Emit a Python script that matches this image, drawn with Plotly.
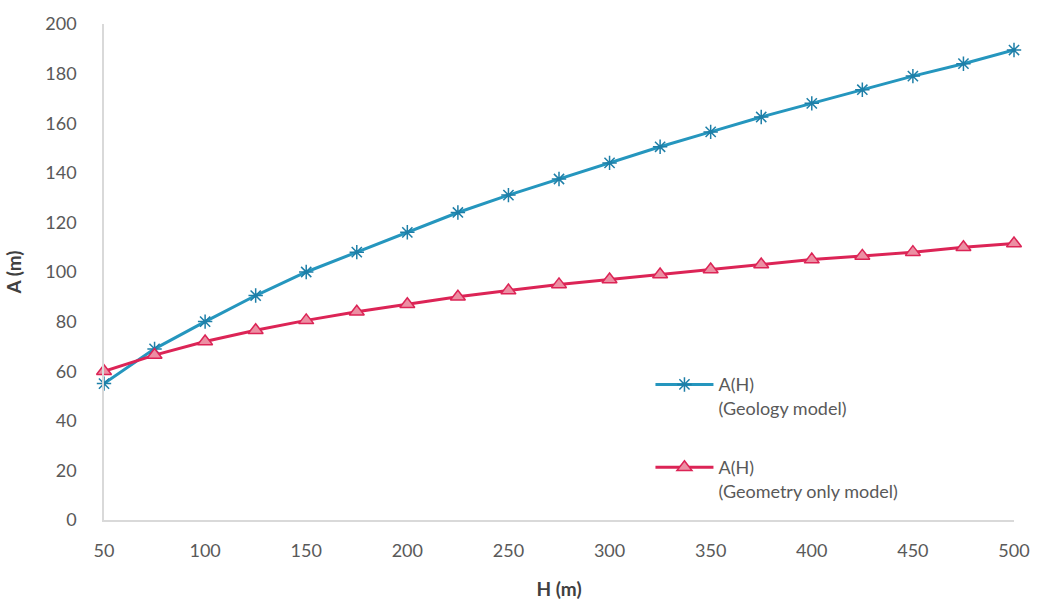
import plotly.graph_objects as go

H = [50, 75, 100, 125, 150, 175, 200, 225, 250, 275, 300, 325, 350, 375, 400, 425, 450, 475, 500]
geology = [55, 69, 80, 90.5, 100, 108, 116, 124, 131, 137.5, 144, 150.5, 156.5, 162.5, 168, 173.5, 179, 184, 189.5]
geometry = [60, 66.5, 72, 76.5, 80.5, 84, 87, 90, 92.5, 95, 97, 99, 101, 103, 105, 106.5, 108, 110, 111.5]

x_ticks = [50, 100, 150, 200, 250, 300, 350, 400, 450, 500]
y_ticks = [0, 20, 40, 60, 80, 100, 120, 140, 160, 180, 200]

blue = "#2596BE"
red = "#DC2456"

fig = go.Figure()
fig.add_trace(go.Scatter(
    x=H, y=geology, mode="lines+markers",
    name="A(H)<br>(Geology model)",
    legendgroup="g1", cliponaxis=False,
    line=dict(color=blue, width=3),
    marker=dict(symbol="asterisk-open", size=12, color="#1E7FA8", line=dict(color="#1E7FA8", width=1.5)),
))
fig.add_trace(go.Scatter(
    x=H, y=geometry, mode="lines+markers",
    name="A(H)<br>(Geometry only model)",
    legendgroup="g2", cliponaxis=False,
    line=dict(color=red, width=3),
    marker=dict(symbol="triangle-up", size=13, color="#EC8FA3", line=dict(color=red, width=1.5)),
))

font = "Lato, 'Open Sans', sans-serif"
fig.update_layout(
    width=1042, height=609,
    margin=dict(l=104, r=27, t=22, b=89),
    paper_bgcolor="white", plot_bgcolor="white",
    font=dict(family=font, size=18, color="#595959"),
    showlegend=True,
    legend=dict(x=0.6005, y=0.31, xanchor="left", yanchor="top", valign="top",
                bgcolor="rgba(0,0,0,0)", tracegroupgap=33,
                font=dict(size=18, color="#595959"), itemwidth=58),
    xaxis=dict(range=[50, 500], tickvals=x_ticks, showgrid=False, zeroline=False,
               showline=True, linecolor="#D9D9D9", linewidth=1.5, ticks="",
               ticklabelstandoff=14, tickfont=dict(size=18, color="#595959"),
               title=dict(text="<b>H (m)</b>", font=dict(size=19, color="#404040"), standoff=22)),
    yaxis=dict(range=[0, 200], tickvals=y_ticks, showgrid=False, zeroline=False,
               showline=True, linecolor="#D9D9D9", linewidth=1.5, ticks="",
               ticklabelstandoff=22, tickfont=dict(size=18, color="#595959"),
               title=dict(text="<b>A (m)</b>", font=dict(size=19, color="#404040"), standoff=19)),
)

fig.write_html("out.html")
